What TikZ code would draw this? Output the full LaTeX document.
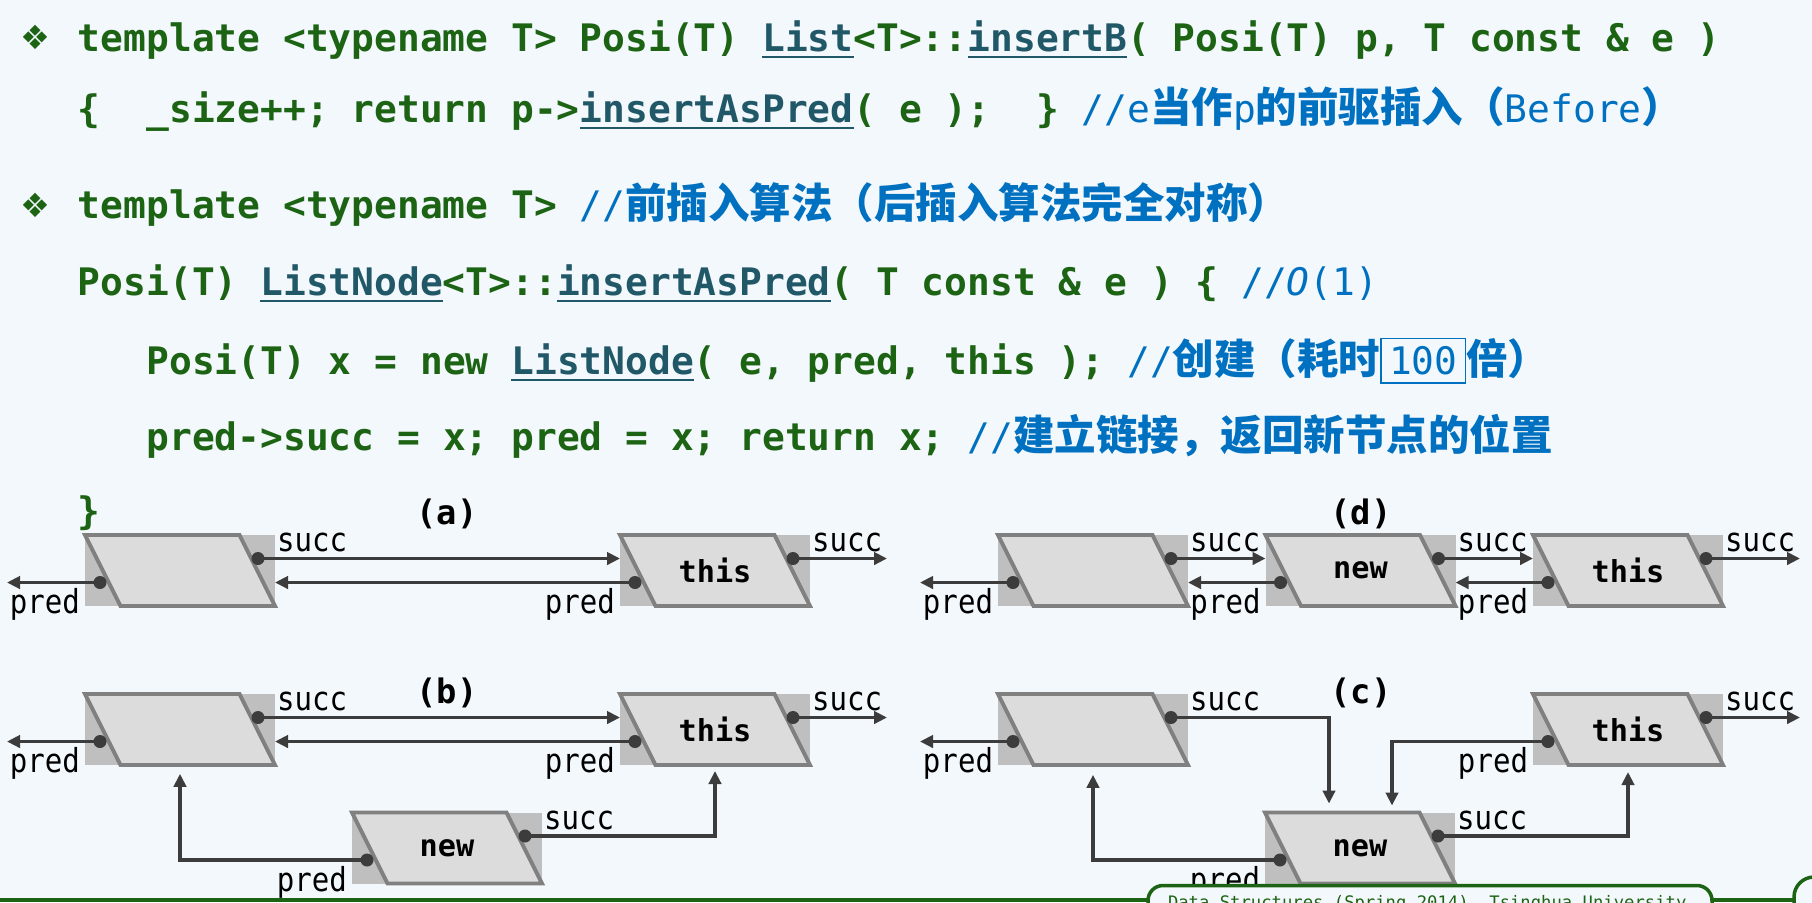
\documentclass[tikz,border=0pt]{standalone}
\usepackage{fontspec}
\usepackage{tikz}
\usetikzlibrary{arrows.meta}
\usetikzlibrary{positioning}
\usetikzlibrary{calc}

\newfontfamily\codefont{DejaVu Sans Mono}
\newfontfamily\lblfont[FakeStretch=0.88]{DejaVu Sans Mono}
\newfontfamily\cjkfont[Scale=1.095]{Noto Sans CJK SC}
\newfontfamily\symfont{DejaVu Sans}

\definecolor{pagebg}{RGB}{243,248,252}
\definecolor{codegreen}{RGB}{28,100,20}
\definecolor{cmtblue}{RGB}{0,112,192}
\definecolor{linkteal}{RGB}{33,88,104}
\definecolor{nodefill}{RGB}{220,220,220}
\definecolor{nodeborder}{RGB}{128,128,128}
\definecolor{nodeshade}{RGB}{191,191,191}
\definecolor{linkgray}{RGB}{60,60,60}

\newcommand{\lnk}[1]{{\color{linkteal}\underline{#1}}}
\newcommand{\zh}[1]{{\cjkfont\bfseries #1}}
\newcommand{\cmt}[1]{{\color{cmtblue}\mdseries #1}}
\newcommand{\hundred}{{\setlength{\fboxsep}{0.07cm}\setlength{\fboxrule}{0.5pt}\fbox{100}}}

\pgfdeclarelayer{background}
\pgfsetlayers{background,main}

\begin{document}
\begin{tikzpicture}[x=1cm,y=1cm,
		every node/.style={inner sep=0pt, outer sep=0pt},
		codeline/.style={anchor=base west, text=codegreen,
			font=\codefont\bfseries\fontsize{10.78pt}{13pt}\selectfont},
		lnode/.style={rectangle, minimum width=1.90cm, minimum height=0.71cm,
			font=\codefont\bfseries\fontsize{8.6pt}{10pt}\selectfont},
		para/.style={draw=nodeborder, fill=nodefill, line width=1.1pt},
		ptr/.style={circle, fill=linkgray, minimum size=0.13cm},
		lbl/.style={font=\lblfont\fontsize{9.4pt}{11pt}\selectfont},
		panelcap/.style={font=\codefont\bfseries\fontsize{9.6pt}{11pt}\selectfont},
		link/.style={draw=linkgray, line width=1pt, -{Triangle[length=3.7pt,width=3.5pt]}},
		node distance = 1.59cm and 2.675cm, on grid]
		
		\useasboundingbox (0,0) rectangle (18.12,-9.02);
		\clip (0,0) rectangle (18.12,-9.02);
		
		% code
		\node[text=codegreen, font=\symfont\fontsize{9.5pt}{10pt}\selectfont] (dia1) at (0.355,-0.37) {❖};
		\node[text=codegreen, font=\symfont\fontsize{9.5pt}{10pt}\selectfont] (dia2) at (0.355,-2.05) {❖};
		\node[codeline] (code1) at (0.78,-0.515) {template <typename T> Posi(T) \lnk{List}<T>::\lnk{insertB}( Posi(T) p, T const \& e )};
		\node[codeline] (code2) at (0.78,-1.225) {\{~~\_size++; return p->\lnk{insertAsPred}( e );~~\} \cmt{//e\zh{当作}p\zh{的前驱插入（}Before\zh{）}}};
		\node[codeline] (code3) at (0.78,-2.18) {template <typename T> \cmt{//\zh{前插入算法（后插入算法完全对称）}}};
		\node[codeline] (code4) at (0.78,-2.955) {Posi(T) \lnk{ListNode}<T>::\lnk{insertAsPred}( T const \& e ) \{ \cmt{//{\itshape O}(1)}};
		\node[codeline] (code5) at (1.465,-3.745) {Posi(T) x = new \lnk{ListNode}( e, pred, this ); \cmt{//\zh{创建（耗时}\hundred\zh{倍）}}};
		\node[codeline] (code6) at (1.465,-4.505) {pred->succ = x; pred = x; return x; \cmt{//\zh{建立链接，返回新节点的位置}}};
		\node[codeline] (code7) at (0.78,-5.24) {\}};
		
		% list nodes
		\node[lnode] (a1) at (1.80,-5.705) {};
		\node[lnode, right=5.35cm of a1] (a2) {this};
		\node[lnode, right=9.13cm of a1] (d1) {};
		\node[lnode, right=of d1] (d2) {new};
		\node[lnode, right=of d2] (d3) {this};
		\node[lnode, below=of a1] (b1) {};
		\node[lnode, below=of a2] (b2) {this};
		\node[lnode, below right=1.185cm and 2.67cm of b1] (b3) {new};
		\node[lnode, below=of d1] (c1) {};
		\node[lnode, below=of d3] (c2) {this};
		\node[lnode, below right=1.185cm and 2.67cm of c1] (c3) {new};
		
		% captions
		\node[panelcap] (capa) at (4.47,-5.14) {(a)};
		\node[panelcap] (capb) at (4.47,-6.93) {(b)};
		\node[panelcap] (capd) at (13.61,-5.14) {(d)};
		\node[panelcap] (capc) at (13.61,-6.93) {(c)};
		
		% pointer dots and labels
		\foreach \n in {a1,a2,b1,b2,b3,d1,d2,d3,c1,c2,c3} {
			\node[ptr] (\n-s) at ($(\n.center)+(0.78,0.12)$) {};
			\node[ptr] (\n-p) at ($(\n.center)+(-0.80,-0.12)$) {};
			\node[lbl, anchor=base west] (\n-sl) at ($(\n-s -| \n.east)+(0.02,0.07)$) {succ};
			\node[lbl, anchor=north east] (\n-pl) at ($(\n-p -| \n.west)+(-0.05,-0.06)$) {pred};
		}
		
		% free ends
		\foreach \n in {a1,b1,d1,c1}
		\coordinate (\n-end) at ($(\n-p)+(-0.93,0)$);
		\foreach \n in {a2,b2,d3,c2}
		\coordinate (\n-end) at ($(\n-s)+(0.94,0)$);
		\coordinate (c3-in) at ($(c3.center)+(-0.31,0.445)$);
		\coordinate (c3-in2) at ($(c3.center)+(0.32,0.425)$);
		
		% links
		\foreach \l/\r in {a1/a2,b1/b2,d1/d2,d2/d3} {
			\draw[link] (\l-s.center) -- (\l-s -| \r.west);
			\draw[link] (\r-p.center) -- (\r-p -| \l.east);
		}
		\foreach \n in {a1,b1,d1,c1}
		\draw[link] (\n-p.center) -- (\n-end);
		\foreach \n in {a2,b2,d3,c2}
		\draw[link] (\n-s.center) -- (\n-end);
		
		% insertion links
		\draw[link, shorten >=1.7pt] (b3-s.center) -| (b2);
		\draw[link, shorten >=2.5pt] (b3-p.center) -| (b1);
		\draw[link, shorten >=2pt] (c3-s.center) -| (c2);
		\draw[link, shorten >=2.8pt] (c3-p.center) -| (c1);
		\draw[link] (c1-s.center) -| (c3-in);
		\draw[link] (c2-p.center) -| (c3-in2);
		
		% footer
		\draw[codegreen, line width=1.1pt] (0,-9.0) -- (18.12,-9.0);
		\draw[codegreen, line width=1pt, fill=pagebg, rounded corners=0.15cm] (11.48,-9.3) rectangle (17.12,-8.855);
		\draw[codegreen, line width=1pt, fill=pagebg, rounded corners=0.2cm] (17.94,-9.3) rectangle (18.6,-8.77);
		\node[anchor=base west, text=codegreen, font=\codefont\fontsize{4.9pt}{6pt}\selectfont] (foot) at (11.68,-9.086) {Data Structures (Spring 2014), Tsinghua University};
		
		% background, shades and node bodies
		\begin{pgfonlayer}{background}
			\fill[pagebg] (0,0) rectangle (18.12,-9.02);
			\foreach \n in {a1,a2,b1,b2,b3,d1,d2,d3,c1,c2,c3} {
				\fill[nodeshade] (\n.north west) rectangle (\n.south east);
				\draw[para] (\n.north west) -- ($(\n.north east)+(-0.355,0)$) -- (\n.south east) -- ($(\n.south west)+(0.355,0)$) -- cycle;
			}
		\end{pgfonlayer}
		
	\end{tikzpicture}
\end{document}
